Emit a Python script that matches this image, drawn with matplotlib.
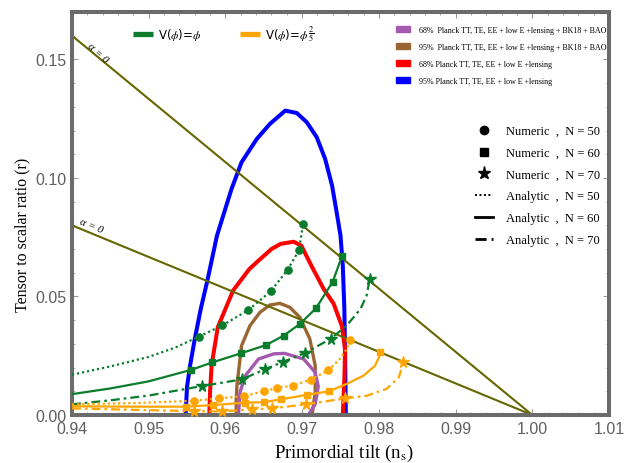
import numpy as np
import matplotlib
matplotlib.use("Agg")
import matplotlib.pyplot as plt
from matplotlib.lines import Line2D
from matplotlib.patches import Patch
from matplotlib.ticker import MultipleLocator, FormatStrFormatter

# ---------------- data ----------------
# Planck contours
blue_ns = [0.9548, 0.9550, 0.9554, 0.9560, 0.9568, 0.9576, 0.9589, 0.9608, 0.9621, 0.9641,
           0.9658, 0.9678, 0.9693, 0.9706, 0.9719, 0.9730, 0.9739, 0.9745, 0.9750, 0.9753,
           0.9755, 0.9756, 0.9757]
blue_r = [0.0, 0.012, 0.021, 0.032, 0.045, 0.056, 0.0757, 0.0954, 0.1066, 0.1165,
          0.1228, 0.1284, 0.1274, 0.1235, 0.1172, 0.1080, 0.0968, 0.0855, 0.0757, 0.063,
          0.045, 0.025, 0.0]

red_ns = [0.9579, 0.9580, 0.9582, 0.9590, 0.9610, 0.9631, 0.9641, 0.9660, 0.9672, 0.9689,
          0.9699, 0.9712, 0.9728, 0.9741, 0.9752, 0.9756, 0.9755, 0.9753]
red_r = [0.0, 0.010, 0.021, 0.037, 0.0525, 0.0615, 0.0645, 0.0700, 0.0722, 0.0731,
         0.0714, 0.0630, 0.0532, 0.0470, 0.0373, 0.0275, 0.015, 0.0]

brown_ns = [0.9614, 0.9614, 0.9615, 0.9621, 0.9632, 0.9645, 0.9658, 0.9671, 0.9684, 0.9697,
            0.9710, 0.9717, 0.9717, 0.9713]
brown_r = [0.0, 0.006, 0.0124, 0.0292, 0.0377, 0.0433, 0.0464, 0.0471, 0.0454, 0.0412,
           0.0321, 0.0208, 0.0096, 0.0]

purple_ns = [0.9617, 0.9619, 0.9626, 0.9643, 0.9663, 0.9677, 0.9702, 0.9717, 0.9721, 0.9717, 0.9708]
purple_r = [0.0, 0.0096, 0.0166, 0.0236, 0.0258, 0.0260, 0.0236, 0.0180, 0.0120, 0.0045, 0.0]

# alpha = 0 lines
alpha_line1_ns = [0.94, 1.00]
alpha_line1_r = [0.16, 0.0]
alpha_line2_ns = [0.94, 1.00]
alpha_line2_r = [0.08, 0.0]

# V(phi) = phi  (green)
g50_num_ns = [0.9565, 0.9596, 0.9630, 0.9659, 0.9681, 0.9696, 0.9701]
g50_num_r = [0.0330, 0.0378, 0.0443, 0.0522, 0.0612, 0.0696, 0.0805]
g50_ana_ns = [0.940, 0.945, 0.950, 0.9535, 0.9565, 0.9596, 0.9630, 0.9659, 0.9681, 0.9696, 0.9701]
g50_ana_r = [0.0170, 0.0205, 0.0245, 0.0285, 0.0330, 0.0378, 0.0443, 0.0522, 0.0612, 0.0696, 0.0805]

g60_num_ns = [0.9555, 0.9583, 0.9620, 0.9653, 0.9676, 0.9697, 0.9718, 0.9740, 0.9752]
g60_num_r = [0.0190, 0.0222, 0.0260, 0.0295, 0.0335, 0.0384, 0.0450, 0.0563, 0.0671]
g60_ana_ns = [0.940, 0.945, 0.950, 0.9555, 0.9583, 0.9620, 0.9653, 0.9676, 0.9697, 0.9718, 0.9740, 0.9752]
g60_ana_r = [0.0088, 0.0112, 0.0142, 0.0190, 0.0222, 0.0260, 0.0295, 0.0335, 0.0384, 0.0450, 0.0563, 0.0671]

g70_num_ns = [0.9569, 0.9621, 0.9651, 0.9675, 0.9704, 0.9737, 0.9788]
g70_num_r = [0.0122, 0.0150, 0.0192, 0.0224, 0.0262, 0.0321, 0.0572]
g70_ana_ns = [0.940, 0.945, 0.950, 0.9569, 0.9621, 0.9651, 0.9675, 0.9704, 0.9737, 0.9758, 0.9776, 0.9784, 0.9788]
g70_ana_r = [0.0045, 0.0062, 0.0082, 0.0122, 0.0150, 0.0192, 0.0224, 0.0262, 0.0321, 0.0377, 0.0447, 0.0503, 0.0572]

# V(phi) = phi^(2/5)  (orange)
o50_num_ns = [0.9559, 0.9592, 0.9624, 0.9650, 0.9667, 0.9688, 0.9711, 0.9734, 0.9763]
o50_num_r = [0.0060, 0.0070, 0.0080, 0.0100, 0.0114, 0.0124, 0.0149, 0.0188, 0.0315]
o50_ana_ns = [0.940, 0.948, 0.9559, 0.9592, 0.9624, 0.9650, 0.9667, 0.9688, 0.9711, 0.9734, 0.9749, 0.9758, 0.9763]
o50_ana_r = [0.0045, 0.0050, 0.0060, 0.0070, 0.0080, 0.0100, 0.0114, 0.0124, 0.0149, 0.0188, 0.0236, 0.0278, 0.0315]

o60_num_ns = [0.9549, 0.9584, 0.9626, 0.9650, 0.9672, 0.9706, 0.9735, 0.9802]
o60_num_r = [0.0035, 0.0042, 0.0052, 0.0054, 0.0066, 0.0085, 0.0100, 0.0267]
o60_ana_ns = [0.940, 0.948, 0.9549, 0.9584, 0.9626, 0.9650, 0.9672, 0.9706, 0.9735, 0.9758, 0.9780, 0.9795, 0.9801, 0.9802]
o60_ana_r = [0.0037, 0.0035, 0.0035, 0.0042, 0.0052, 0.0054, 0.0066, 0.0085, 0.0100, 0.0131, 0.0166, 0.0208, 0.0250, 0.0267]

o70_num_ns = [0.9559, 0.9595, 0.9635, 0.9661, 0.9705, 0.9756, 0.9832]
o70_num_r = [0.0016, 0.0015, 0.0024, 0.0028, 0.0045, 0.0070, 0.0223]
o70_ana_ns = [0.940, 0.948, 0.9559, 0.9595, 0.9635, 0.9661, 0.9705, 0.9756, 0.9784, 0.9810, 0.9826, 0.9830, 0.9832]
o70_ana_r = [0.0028, 0.0022, 0.0016, 0.0015, 0.0024, 0.0028, 0.0045, 0.0070, 0.0081, 0.0110, 0.0159, 0.0201, 0.0223]

x_ticks = [0.94, 0.95, 0.96, 0.97, 0.98, 0.99, 1.00, 1.01]
y_ticks = [0.00, 0.05, 0.10, 0.15]

contour_labels = ["68%  Planck TT, TE, EE + low E +lensing + BK18 + BAO",
                  "95%  Planck TT, TE, EE + low E +lensing + BK18 + BAO",
                  "68% Planck TT, TE, EE + low E +lensing",
                  "95% Planck TT, TE, EE + low E +lensing"]
style_labels = ["Numeric  ,  N = 50", "Numeric  ,  N = 60", "Numeric  ,  N = 70",
                "Analytic  ,  N = 50", "Analytic  ,  N = 60", "Analytic  ,  N = 70"]

# ---------------- styling ----------------
GREEN = "#0a7d2c"
ORANGE = "#ffa500"
RED = "#ff0000"
BLUE = "#0000ff"
BROWN = "#996633"
PURPLE = "#a55ab0"
OLIVE = "#666600"
FRAME = "#6b6b6b"
TICKC = "#5f5f5f"
SERIF = "Liberation Serif"
SANS = "Liberation Sans"

plt.rcParams["mathtext.fontset"] = "stix"

DOT = (0, (1.0, 1.3))
DASHDOT = (0, (4.0, 1.8, 1.2, 1.8))

fig = plt.figure(figsize=(6.33, 4.64), dpi=100)
ax = fig.add_axes([72 / 633, 48 / 464, 537 / 633, 403 / 464])
ax.set_xlim(0.94, 1.01)
ax.set_ylim(0.0, 0.17)

# contours
ax.plot(blue_ns, blue_r, color=BLUE, lw=2.9, zorder=2, solid_joinstyle="round")
ax.plot(red_ns, red_r, color=RED, lw=2.9, zorder=2.1, solid_joinstyle="round")
ax.plot(brown_ns, brown_r, color=BROWN, lw=2.4, zorder=2.2, solid_joinstyle="round")
ax.plot(purple_ns, purple_r, color=PURPLE, lw=2.4, zorder=2.3, solid_joinstyle="round")

# alpha lines
ax.plot(alpha_line1_ns, alpha_line1_r, color=OLIVE, lw=1.5, zorder=2.4)
ax.plot(alpha_line2_ns, alpha_line2_r, color=OLIVE, lw=1.5, zorder=2.4)

# analytic curves
for ns, r, c, ls in [(g50_ana_ns, g50_ana_r, GREEN, DOT), (g60_ana_ns, g60_ana_r, GREEN, "-"),
                     (g70_ana_ns, g70_ana_r, GREEN, DASHDOT),
                     (o50_ana_ns, o50_ana_r, ORANGE, DOT), (o60_ana_ns, o60_ana_r, ORANGE, "-"),
                     (o70_ana_ns, o70_ana_r, ORANGE, DASHDOT)]:
    ax.plot(ns, r, color=c, ls=ls, lw=1.6, zorder=3)

# numeric points
for ns, r, c, m, s in [(g50_num_ns, g50_num_r, GREEN, "o", 5.2), (g60_num_ns, g60_num_r, GREEN, "s", 4.8),
                       (g70_num_ns, g70_num_r, GREEN, "*", 8.5),
                       (o50_num_ns, o50_num_r, ORANGE, "o", 5.2), (o60_num_ns, o60_num_r, ORANGE, "s", 4.8),
                       (o70_num_ns, o70_num_r, ORANGE, "*", 8.5)]:
    ax.plot(ns, r, ls="none", marker=m, ms=s, color=c, mec=c, zorder=4, clip_on=False)

# alpha = 0 labels
fig.canvas.draw()
def line_angle(xs, ys):
    p = ax.transData.transform(np.column_stack([xs, ys]))
    return np.degrees(np.arctan2(p[1, 1] - p[0, 1], p[1, 0] - p[0, 0]))
ax.text(0.9433, 0.1530, "α = 0", rotation=line_angle(alpha_line1_ns, alpha_line1_r) - 3,
        rotation_mode="anchor", ha="center", va="center", family=SERIF, style="italic", fontsize=8)
ax.text(0.9425, 0.0800, "α = 0", rotation=line_angle(alpha_line2_ns, alpha_line2_r),
        rotation_mode="anchor", ha="center", va="center", family=SERIF, style="italic", fontsize=8)

# axes styling
for sp in ax.spines.values():
    sp.set_color(FRAME)
    sp.set_linewidth(2.9)
ax.set_xticks(x_ticks)
ax.set_yticks(y_ticks)
ax.xaxis.set_major_formatter(FormatStrFormatter("%.2f"))
ax.yaxis.set_major_formatter(FormatStrFormatter("%.2f"))
ax.xaxis.set_minor_locator(MultipleLocator(0.002))
ax.yaxis.set_minor_locator(MultipleLocator(0.01))
ax.tick_params(which="both", direction="in", top=True, right=True, color="#9a9a9a")
ax.tick_params(which="major", length=4.5, width=0.8, labelsize=11.5, labelcolor=TICKC, pad=4)
ax.tick_params(which="minor", length=2.5, width=0.6)
for lab in ax.get_xticklabels() + ax.get_yticklabels():
    lab.set_family(SANS)

ax.set_xlabel("Primordial tilt (n$_{\\rm s}$)", family=SERIF, fontsize=13.5)
ax.xaxis.set_label_coords(0.506, -0.066)
ax.set_ylabel("Tensor to scalar ratio (r)", family=SERIF, fontsize=11.5, va="center")
ax.yaxis.set_label_coords(-0.093, 0.449)

# legend 1: potentials
h1 = [Line2D([], [], color=GREEN, lw=3.8, solid_capstyle="butt"),
      Line2D([], [], color=ORANGE, lw=3.8, solid_capstyle="butt")]
l1 = ["V($\\phi$)=$\\phi$", "V($\\phi$)=$\\phi^{\\dfrac{2}{5}}$"]
leg1 = ax.legend(h1, l1, loc="center left", bbox_to_anchor=((133 - 72) / 537, (416 - 34) / 403),
                 ncol=2, frameon=False, borderpad=0, borderaxespad=0, handlelength=1.7,
                 handletextpad=0.4, columnspacing=3.3, prop={"family": "DejaVu Sans", "size": 8.5})
ax.add_artist(leg1)

# legend 2: contours
h2 = [Patch(color=PURPLE), Patch(color=BROWN), Patch(color=RED), Patch(color=BLUE)]
leg2 = ax.legend(h2, contour_labels, loc="center right", bbox_to_anchor=((607 - 72) / 537, (416 - 56.5) / 403),
                 frameon=False, borderpad=0, borderaxespad=0, handlelength=1.75, handleheight=0.8,
                 handletextpad=1.2, labelspacing=1.1, prop={"family": SERIF, "size": 5.8})
ax.add_artist(leg2)

# legend 3: styles
h3 = [Line2D([], [], ls="none", marker="o", ms=6, color="black"),
      Line2D([], [], ls="none", marker="s", ms=5.5, color="black"),
      Line2D([], [], ls="none", marker="*", ms=9.5, color="black"),
      Line2D([], [], ls=DOT, lw=1.4, color="black"),
      Line2D([], [], ls="-", lw=2.0, color="black"),
      Line2D([], [], ls=DASHDOT, lw=2.0, color="black")]
leg3 = ax.legend(h3, style_labels, loc="center left", bbox_to_anchor=((475 - 72) / 537, (416 - 186.5) / 403),
                 frameon=False, borderpad=0, borderaxespad=0, handlelength=1.45, handletextpad=1.0,
                 labelspacing=0.78, prop={"family": SERIF, "size": 9})

fig.savefig("out.png", dpi=100)
